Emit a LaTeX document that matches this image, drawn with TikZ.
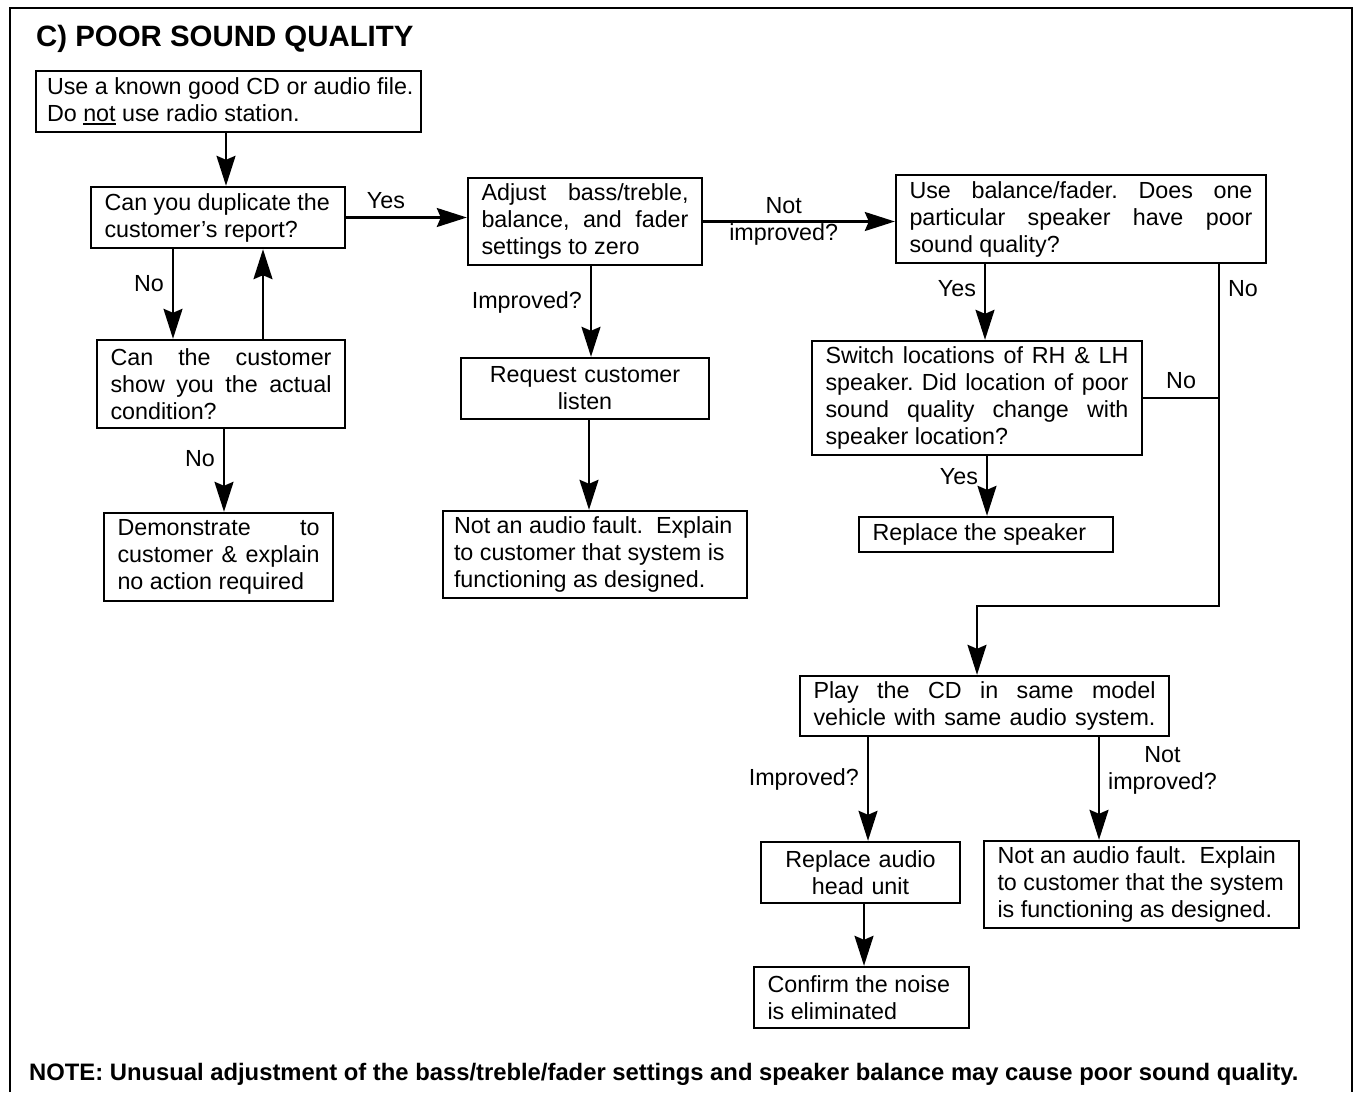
\documentclass[tikz,border=0pt]{standalone}
\usepackage{fontspec}
\setmainfont{Liberation Sans}
\usetikzlibrary{arrows.meta, positioning, calc}

% one justified line of a box
\newcommand{\jl}[1]{\makebox[\hsize][s]{\spaceskip=0pt\xspaceskip=0pt #1}}
% thick underline
\newcommand{\ulthick}[1]{\setbox0\hbox{#1}\rlap{\rule[-3.5pt]{\wd0}{2pt}}\box0\relax}

\begin{document}
\begin{tikzpicture}[
    x=1pt, y=-1pt,
    box/.style={rectangle, draw, line width=2.4pt, inner xsep=13.5pt, inner ysep=0pt, align=justify, font=\fontsize{23.3}{27}\selectfont\frenchspacing},
    cbox/.style={box, align=center},
    lbl/.style={font=\fontsize{23.3}{27}\selectfont, inner sep=8pt},
    arrow/.style={line width=2.2pt, -{Stealth[length=30pt, width=19pt, inset=4pt]}},
    link/.style={line width=2.2pt}
]
\useasboundingbox (0,0) rectangle (1356,1092);

% Frame
\draw[line width=2.4pt] (10,1092) -- (10,8) -- (1352,8) -- (1352,1092);
\node (title) [anchor=base west, inner sep=0pt, font=\fontsize{29.4}{35}\selectfont\bfseries] at (36,46) {C) POOR SOUND QUALITY};
\node (note) [anchor=base west, inner sep=0pt, font=\fontsize{23.8}{28}\selectfont\bfseries] at (29,1080) {NOTE: Unusual adjustment of the bass/treble/fader settings and speaker balance may cause poor sound quality.};

% Nodes
\node (good) [box, inner xsep=11pt, text width=363pt, minimum height=61pt] at (228.5,101.5) {\mbox{Use a known good CD or audio file.}\\Do \ulthick{not} use radio station.};
\node (dup) [box, text width=227pt, minimum height=61pt] at (218,217.5) {Can you duplicate the\\customer’s report?};
\node (show) [box, text width=221pt, minimum height=88pt] at (221,384) {\jl{Can the customer}\\\jl{show you the actual}\\condition?};
\node (demo) [box, text width=202pt, minimum height=88pt] at (218.5,557) {\jl{Demonstrate to}\\\jl{customer \& explain}\\no action required};
\node (adjust) [box, text width=207pt, minimum height=87pt] at (585,221.5) {\jl{Adjust bass/treble,}\\\jl{balance, and fader}\\settings to zero};
\node (listen) [cbox, text width=221pt, minimum height=61pt] at (585,388.5) {Request customer\\listen};
\node (fault1) [box, inner xsep=11pt, text width=282pt, minimum height=87pt] at (595,554.5) {\mbox{Not an audio fault.\ \ Explain}\\to customer that system is\\functioning as designed.};
\node (balance) [box, text width=343pt, minimum height=88pt] at (1081,219) {\jl{Use balance/fader. Does one}\\\jl{particular speaker have poor}\\sound quality?};
\node (switch) [box, text width=303pt, minimum height=114pt] at (977,398) {\jl{Switch locations of RH \& LH}\\\jl{speaker. Did location of poor}\\\jl{sound quality change with}\\speaker location?};
\node (speaker) [box, text width=227pt, minimum height=35pt] at (986,534.5) {Replace the speaker};
\node (play) [box, text width=342pt, minimum height=60pt] at (984.5,706) {\jl{Play the CD in same model}\\\jl{vehicle with same audio system.}};
\node (headunit) [cbox, text width=172pt, minimum height=61pt] at (860.5,872.5) {Replace audio\\head unit};
\node (fault2) [box, text width=288pt, minimum height=87pt] at (1141.5,884.5) {\mbox{Not an audio fault.\ \ Explain}\\to customer that the system\\is functioning as designed.};
\node (confirm) [box, text width=188pt, minimum height=61pt] at (861.5,997.5) {Confirm the noise\\is eliminated};

% Connections
\coordinate (dupno) at ([xshift=-45pt]dup.south);
\coordinate (showback) at ([xshift=42pt]show.north);
\coordinate (showno) at ([xshift=3pt]show.south);
\coordinate (adjimp) at ([xshift=6pt]adjust.south);
\coordinate (listenout) at ([xshift=4pt]listen.south);
\coordinate (balyes) at ([xshift=-96pt]balance.south);
\coordinate (balno) at ([xshift=138pt]balance.south);
\coordinate (nojoin) at (1219,606);
\coordinate (swyes) at ([xshift=10pt]switch.south);
\coordinate (playimp) at ([xshift=-116.5pt]play.south);
\coordinate (playnot) at ([xshift=114.5pt]play.south);
\coordinate (headout) at ([xshift=3.5pt]headunit.south);

\draw[arrow] ([xshift=-2.5pt]good.south) -- ([xshift=-2.5pt]good.south |- dup.north);
\draw[arrow] (dup.east) -- node[lbl, above, pos=0.33] {Yes} (dup.east -| adjust.west);
\draw[arrow] (dupno) -- node[lbl, left, pos=0.38] {No} (dupno |- show.north);
\draw[arrow] (showback) -- (showback |- dup.south);
\draw[arrow] (showno) -- node[lbl, left, pos=0.35] {No} (showno |- demo.north);
\draw[arrow] (adjimp) -- node[lbl, left, pos=0.4] {Improved?} (adjimp |- listen.north);
\draw[arrow] (listenout) -- (listenout |- fault1.north);
\draw[arrow] (adjust.east) -- node[lbl, align=center, pos=0.42] {Not\\improved?} (adjust.east -| balance.west);
\draw[arrow] (balyes) -- node[lbl, left, pos=0.32] {Yes} (balyes |- switch.north);
\draw[arrow] (balno) -- node[lbl, right, pos=0.07] {No} (nojoin) -| ([xshift=-7.5pt]play.north);
\draw[link] (switch.east) -- node[lbl, above] {No} (switch.east -| nojoin);
\draw[arrow] (swyes) -- node[lbl, left, pos=0.34] {Yes} (swyes |- speaker.north);
\draw[arrow] (playimp) -- node[lbl, left, pos=0.41] {Improved?} (playimp |- headunit.north);
\draw[arrow] (playnot) -- node[lbl, right, align=center, pos=0.32] {Not\\improved?} (playnot |- fault2.north);
\draw[arrow] (headout) -- (headout |- confirm.north);

\end{tikzpicture}
\end{document}
